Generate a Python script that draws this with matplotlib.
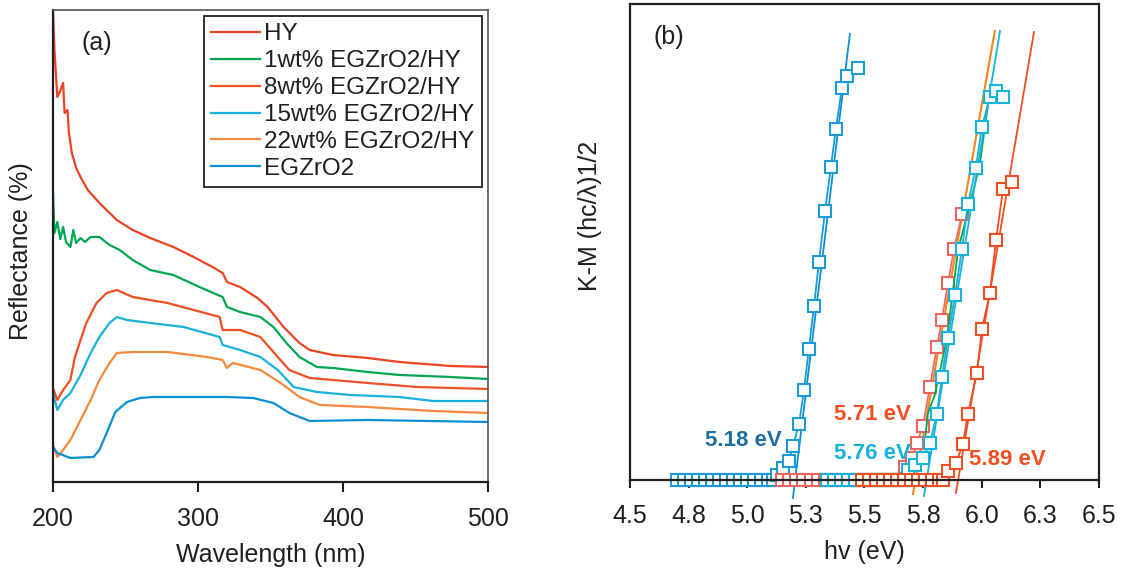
import matplotlib
matplotlib.use('Agg')
import matplotlib.pyplot as plt

plt.rcParams['font.family'] = ['Liberation Sans', 'DejaVu Sans']
plt.rcParams['text.color'] = '#231f20'
plt.rcParams['axes.labelcolor'] = '#231f20'
plt.rcParams['xtick.color'] = '#231f20'

# ---- panel (a): reflectance spectra ----
hy_wl = [200, 201, 203, 205, 207, 208, 210, 211, 213, 216, 219, 224, 232, 244, 255, 267, 283, 297,
         310, 317, 320, 329, 341, 348, 359, 370, 377, 393, 417, 439, 474, 500]
hy_r = [47.2, 43.2, 38.5, 39.1, 39.9, 36.9, 37.2, 34.9, 32.9, 31.4, 30.5, 29.2, 27.9, 26.2, 25.2, 24.4,
        23.5, 22.5, 21.5, 20.9, 20.0, 19.5, 18.4, 17.5, 15.5, 13.9, 13.2, 12.7, 12.4, 12.0, 11.6, 11.5]

wt1_wl = [200, 201, 203, 205, 207, 209, 212, 214, 216, 219, 222, 226, 232, 239, 246, 255, 267, 283,
          301, 317, 320, 329, 343, 352, 361, 370, 382, 393, 417, 439, 474, 500]
wt1_r = [29.0, 24.9, 26.0, 24.3, 25.5, 24.0, 23.5, 25.2, 23.9, 24.4, 24.0, 24.5, 24.5, 23.7, 23.2, 22.2,
         21.2, 20.7, 19.5, 18.5, 17.5, 17.0, 16.5, 15.5, 13.9, 12.5, 11.5, 11.4, 11.0, 10.7, 10.5, 10.3]

wt8_wl = [200, 203, 207, 212, 215, 219, 223, 230, 237, 244, 255, 279, 297, 315, 317, 329, 343, 355,
          363, 377, 393, 417, 451, 500]
wt8_r = [9.4, 8.2, 9.2, 10.2, 12.4, 14.2, 15.9, 17.9, 18.9, 19.2, 18.5, 17.9, 17.2, 16.5, 15.2, 15.2,
         14.5, 12.5, 11.2, 10.4, 10.2, 9.9, 9.5, 9.3]

wt15_wl = [200, 203, 207, 212, 219, 226, 232, 239, 244, 251, 267, 290, 315, 317, 329, 343, 355, 366,
           382, 405, 439, 462, 500]
wt15_r = [8.9, 7.2, 8.2, 8.9, 10.7, 12.9, 14.5, 15.9, 16.5, 16.2, 15.9, 15.5, 14.5, 13.7, 13.2, 12.5,
          11.2, 9.5, 9.0, 8.7, 8.5, 8.1, 8.1]

wt22_wl = [200, 203, 207, 212, 219, 226, 232, 239, 244, 255, 279, 306, 317, 320, 324, 343, 357, 370,
           384, 417, 462, 500]
wt22_r = [3.7, 2.5, 3.2, 4.2, 6.2, 8.2, 10.2, 11.9, 12.9, 13.0, 13.0, 12.5, 12.2, 11.4, 11.9, 11.2,
          9.9, 8.5, 7.7, 7.5, 7.1, 6.9]

zr_wl = [200, 203, 212, 228, 232, 237, 243, 251, 260, 269, 320, 338, 352, 363, 377, 417, 500]
zr_r = [3.5, 2.9, 2.4, 2.5, 3.2, 4.9, 7.0, 8.0, 8.4, 8.5, 8.5, 8.4, 7.9, 6.9, 6.1, 6.2, 6.0]

spectra = [
    ('HY', hy_wl, hy_r, '#ef4123'),
    ('1wt% EGZrO2/HY', wt1_wl, wt1_r, '#00a651'),
    ('8wt% EGZrO2/HY', wt8_wl, wt8_r, '#f04e23'),
    ('15wt% EGZrO2/HY', wt15_wl, wt15_r, '#16b2da'),
    ('22wt% EGZrO2/HY', wt22_wl, wt22_r, '#f58a3a'),
    ('EGZrO2', zr_wl, zr_r, '#0b8fd3'),
]

# ---- panel (b): Tauc plots ----
zr_ev = [4.70, 4.73, 4.76, 4.79, 4.82, 4.85, 4.88, 4.91, 4.94, 4.97, 5.00, 5.03, 5.06, 5.09, 5.11,
         5.127, 5.152, 5.178, 5.195, 5.221, 5.242, 5.263, 5.285, 5.306, 5.332, 5.357, 5.378, 5.404,
         5.425, 5.472]
zr_km = [0] * 15 + [0.05, 0.12, 0.19, 0.34, 0.56, 0.90, 1.31, 1.74, 2.18, 2.69, 3.13, 3.51, 3.92,
                    4.04, 4.12]

pink_ev = [5.15, 5.18, 5.21, 5.24, 5.27, 5.30, 5.33, 5.36, 5.39, 5.42, 5.45, 5.48, 5.51, 5.54, 5.57,
           5.60, 5.63, 5.66, 5.673, 5.703, 5.724, 5.749, 5.779, 5.809, 5.830, 5.856, 5.882, 5.916]
pink_km = [0] * 18 + [0.13, 0.22, 0.37, 0.54, 0.93, 1.33, 1.60, 1.97, 2.31, 2.66]

cyan_ev = [5.34, 5.37, 5.40, 5.43, 5.46, 5.49, 5.52, 5.55, 5.58, 5.61, 5.64, 5.66, 5.686, 5.715,
           5.749, 5.779, 5.809, 5.830, 5.856, 5.886, 5.916, 5.941, 5.975, 6.001, 6.035, 6.061, 6.091]
cyan_km = [0] * 12 + [0.10, 0.15, 0.22, 0.37, 0.66, 1.03, 1.42, 1.85, 2.31, 2.76, 3.12, 3.53, 3.83,
                      3.89, 3.83]

hy_ev = [5.49, 5.52, 5.55, 5.58, 5.61, 5.64, 5.67, 5.70, 5.73, 5.76, 5.79, 5.82, 5.835, 5.856, 5.890,
         5.920, 5.941, 5.980, 6.001, 6.035, 6.061, 6.091, 6.129]
hy_km = [0] * 13 + [0.09, 0.17, 0.36, 0.66, 1.07, 1.51, 1.87, 2.40, 2.91, 2.98]

green_ev = [5.758, 5.771, 5.80, 5.852, 5.90, 5.99, 6.03]
green_km = [0.40, 0.67, 0.85, 1.42, 2.31, 3.13, 3.80]

# tangent lines (x at bottom, x at top ; y at bottom, y at top)
fit_zr = ([5.195, 5.438], [-0.18, 4.46])
fit_pink = ([5.707, 6.056], [-0.14, 4.49])
fit_cyan = ([5.754, 6.078], [-0.16, 4.49])
fit_hy = ([5.890, 6.223], [-0.13, 4.48])

ev_ticks = [4.5, 4.75, 5.0, 5.25, 5.5, 5.75, 6.0, 6.25, 6.5]
ev_labels = ['4.5', '4.8', '5.0', '5.3', '5.5', '5.8', '6.0', '6.3', '6.5']

fig = plt.figure(figsize=(11.32, 5.74), dpi=100)
ax1 = fig.add_axes([0.0468, 0.1603, 0.3843, 0.8223])
ax2 = fig.add_axes([0.5565, 0.1638, 0.4143, 0.8293])

for name, wl, r, c in spectra:
    ax1.plot(wl, r, color=c, lw=1.6, label=name)
ax1.set_xlim(200, 500)
ax1.set_ylim(0, 47.2)
ax1.set_xticks([200, 300, 400, 500])
ax1.set_yticks([])
ax1.tick_params(axis='x', labelsize=18, length=7, width=1.5, pad=11, direction='out')
for s in ['left', 'bottom']:
    ax1.spines[s].set_color('#231f20')
    ax1.spines[s].set_linewidth(1.6)
for s in ['top', 'right']:
    ax1.spines[s].set_color('#555555')
    ax1.spines[s].set_linewidth(1.2)
ax1.set_xlabel('Wavelength (nm)', fontsize=18, labelpad=9)
ax1.set_ylabel('Reflectance (%)', fontsize=18)
ax1.yaxis.set_label_coords(-0.045, 0.49)
ax1.text(0.1, 0.93, '(a)', transform=ax1.transAxes, fontsize=18, ha='center', va='center')
leg = ax1.legend(loc='upper right', bbox_to_anchor=(0.986, 0.987), borderaxespad=0, fontsize=17.5,
                 handlelength=2.0, handletextpad=0.2, labelspacing=0.2, borderpad=0.3,
                 fancybox=False, framealpha=1, edgecolor='#231f20')
leg.get_frame().set_linewidth(1.3)

mk = dict(marker='s', ms=8.5, mfc='white', mew=1.5, clip_on=False)
ax2.plot(*fit_zr, color='#0b8fd3', lw=1.3, clip_on=False)
ax2.plot(zr_ev, zr_km, color='#1a9ad6', lw=1.3, mec='#1a9ad6', **mk)
ax2.plot(*fit_pink, color='#f7861d', lw=1.5, clip_on=False)
ax2.plot(pink_ev, pink_km, color='#ef6461', lw=1.2, mec='#ef6461', **mk)
ax2.plot(green_ev, green_km, color='#00a651', lw=1.3)
ax2.plot(*fit_cyan, color='#16b2da', lw=1.3, clip_on=False)
ax2.plot(cyan_ev, cyan_km, color='#16b2da', lw=1.3, mec='#16b2da', **mk)
ax2.plot(*fit_hy, color='#f04e23', lw=1.3, clip_on=False)
ax2.plot(hy_ev, hy_km, color='#f04e23', lw=1.3, mec='#f04e23', **mk)

ax2.set_xlim(4.5, 6.5)
ax2.set_ylim(0, 4.76)
ax2.set_xticks(ev_ticks)
ax2.set_xticklabels(ev_labels)
ax2.set_yticks([])
ax2.tick_params(axis='x', labelsize=18, length=6, width=1.5, pad=11, direction='out')
for s in ax2.spines.values():
    s.set_color('#231f20')
    s.set_linewidth(1.6)
ax2.set_xlabel('hv (eV)', fontsize=18, labelpad=9)
ax2.set_ylabel('K-M (hc/\u03bb)1/2', fontsize=18)
ax2.yaxis.set_label_coords(-0.06, 0.555)
ax2.text(0.082, 0.93, '(b)', transform=ax2.transAxes, fontsize=18, ha='center', va='center')

lbl = dict(fontsize=16, fontweight='bold', ha='center', va='center')
ax2.text(4.982, 0.39, '5.18 eV', color='#1d6fa0', **lbl)
ax2.text(5.536, 0.65, '5.71 eV', color='#f04e23', **lbl)
ax2.text(5.532, 0.26, '5.76 eV', color='#16b2da', **lbl)
ax2.text(6.108, 0.20, '5.89 eV', color='#f04e23', **lbl)

fig.savefig('out.png', dpi=100)
